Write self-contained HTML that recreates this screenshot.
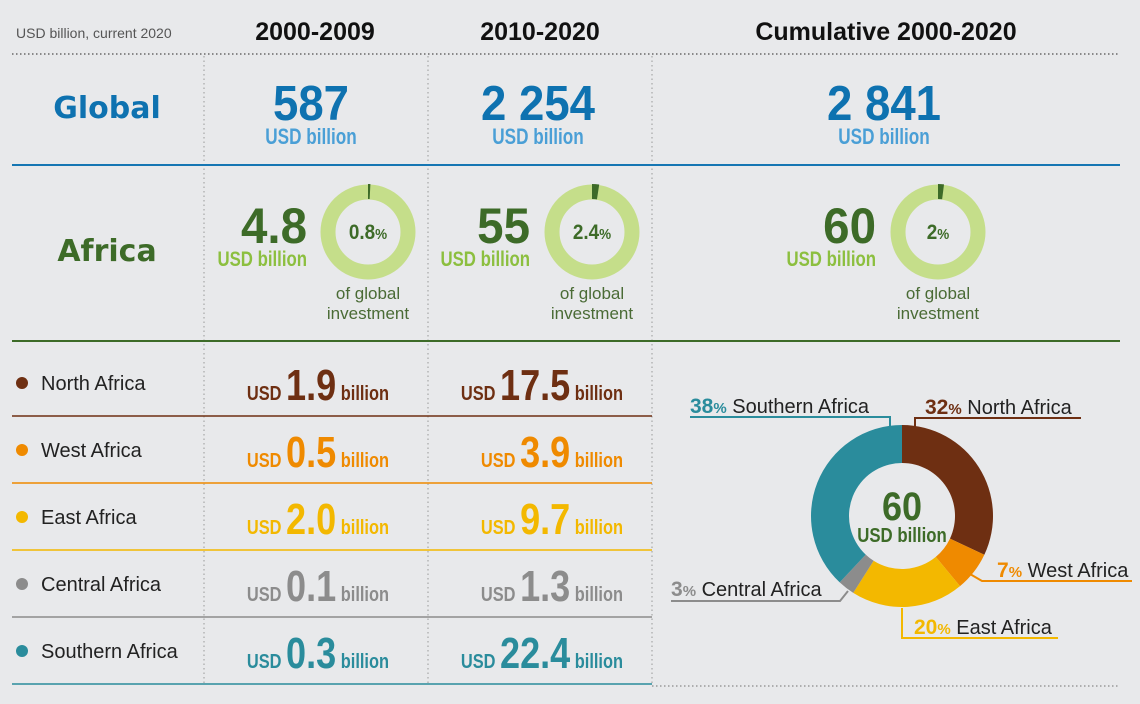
<!DOCTYPE html>
<html><head><meta charset="utf-8"><style>
body{margin:0;background:#e8e9eb;}
svg{display:block;font-family:"Liberation Sans",sans-serif;}
.b{font-weight:bold}
</style></head><body>
<svg id="c" width="1140" height="704" viewBox="0 0 1140 704">
<rect width="1140" height="704" fill="#e8e9eb"/>
<text x="16" y="38" font-size="14" fill="#555">USD billion, current 2020</text>
<g class="b" font-size="25" fill="#111" text-anchor="middle">
<text x="315" y="40">2000-2009</text>
<text x="540" y="40">2010-2020</text>
<text x="886" y="40">Cumulative 2000-2020</text>
</g>
<line x1="12" y1="54" x2="1120" y2="54" stroke="#888" stroke-width="2" stroke-dasharray="1.5 2.5"/>
<g stroke="#999" stroke-width="1" stroke-dasharray="1.5 3">
<line x1="204" y1="56" x2="204" y2="686"/>
<line x1="428" y1="56" x2="428" y2="686"/>
<line x1="652" y1="56" x2="652" y2="686"/>
</g>
<line x1="12" y1="165" x2="1120" y2="165" stroke="#1576b3" stroke-width="2"/>
<line x1="12" y1="341" x2="1120" y2="341" stroke="#3d6b28" stroke-width="2"/>
<text x="107" y="118" font-size="30" class="b" fill="#0e72b0" text-anchor="middle" font-family="DejaVu Sans, sans-serif">Global</text>
<text x="107" y="261" font-size="30" class="b" fill="#3d6b28" text-anchor="middle" font-family="DejaVu Sans, sans-serif">Africa</text>
<g id="glob" text-anchor="middle" class="b"></g>
<g id="afr" class="b"></g>
<g id="rows"></g>
<g id="donut"></g>
<line x1="652" y1="686" x2="1120" y2="686" stroke="#999" stroke-width="1.5" stroke-dasharray="1.5 2.5"/>
</svg>
<script>
const periods=["2000-2009","2010-2020","Cumulative"];
const globalVals=["587","2 254","2 841"];
const africaVals=["4.8","55","60"];
const africaShare=[0.8,2.4,2];
const africaShareLabels=["0.8","2.4","2"];
const regions=["North Africa","West Africa","East Africa","Central Africa","Southern Africa"];
const vals0009=["1.9","0.5","2.0","0.1","0.3"];
const vals1020=["17.5","3.9","9.7","1.3","22.4"];
const cumShare=[32,7,20,3,38];
const colors=["#6e2f12","#ef8a00","#f3b800","#8c8c8c","#2a8c9c"];
const NS="http://www.w3.org/2000/svg";
function mk(t,a,p){const e=document.createElementNS(NS,t);for(const k in a)e.setAttribute(k,a[k]);p.appendChild(e);return e;}
function cond(el,x,s){el.setAttribute('transform',`translate(${x} 0) scale(${s} 1) translate(${-x} 0)`);}
function arc(cx,cy,r0,r1,a0,a1){const f=(r,a)=>[cx+r*Math.sin(a),cy-r*Math.cos(a)];const L=(a1-a0)>Math.PI?1:0;
const p1=f(r1,a0),p2=f(r1,a1),p3=f(r0,a1),p4=f(r0,a0);
return `M${p1}A${r1},${r1} 0 ${L} 1 ${p2}L${p3}A${r0},${r0} 0 ${L} 0 ${p4}Z`;}
const gx=[311,538,884], dx=[368,592,938], nx=[307,530,876];
const glob=document.getElementById('glob'),afr=document.getElementById('afr');
globalVals.forEach((v,i)=>{
 let t=mk('text',{x:gx[i],y:120,'font-size':49,fill:'#0e72b0'},glob);t.textContent=v;cond(t,gx[i],0.93);
 
 
 let u=mk('text',{x:gx[i],y:144,'font-size':22,fill:'#4a9fd6'},glob);u.textContent='USD billion';cond(u,gx[i],0.78);
 
 
});
africaVals.forEach((v,i)=>{
 let t=mk('text',{x:nx[i],y:243,'font-size':50,fill:'#3d6b28','text-anchor':'end'},afr);t.textContent=v;cond(t,nx[i],0.95);
 
 
 let u=mk('text',{x:nx[i],y:266,'font-size':21,fill:'#8cbf3f','text-anchor':'end'},afr);u.textContent='USD billion';cond(u,nx[i],0.8);
 
 
 let ring=mk('circle',{cx:dx[i],cy:232,r:40,fill:'none',stroke:'#c5de8a','stroke-width':15},afr);
 
 
 let s=mk('path',{d:arc(dx[i],232,33,48,0,africaShare[i]/100*2*Math.PI),fill:'#3d6b28'},afr);
 
 
 let p=mk('text',{x:dx[i],y:239,'font-size':21,fill:'#3d6b28','text-anchor':'middle'},afr);
 p.innerHTML=africaShareLabels[i]+'<tspan font-size="15">%</tspan>';cond(p,dx[i],0.9);
 
 
 ['of global','investment'].forEach((w,k)=>{let o=mk('text',{x:dx[i],y:299+k*20,'font-size':17,'font-weight':'normal',fill:'#4a6b35','text-anchor':'middle'},afr);o.textContent=w;
 
 });
});
const rows=document.getElementById('rows');
regions.forEach((r,i)=>{
 const y=341+i*67;
 let d=mk('circle',{cx:22,cy:y+42,r:6,fill:colors[i]},rows);
 
 
 let t=mk('text',{x:41,y:y+49,'font-size':20,fill:'#222'},rows);t.textContent=r;
 
 
 [[vals0009,389],[vals1020,623]].forEach(([arr,x],k)=>{
  let v=mk('text',{x:x,y:y+59,'text-anchor':'end',fill:colors[i],'font-weight':'bold'},rows);
  v.innerHTML=`<tspan font-size="20">USD </tspan><tspan font-size="44">${arr[i]}</tspan><tspan font-size="20"> billion</tspan>`;
  cond(v,x,0.82);
  
  
 });
 let l=mk('line',{x1:12,y1:y+75,x2:652,y2:y+75,stroke:colors[i],'stroke-width':2,opacity:0.75},rows);
 
 
});
const dn=document.getElementById('donut');const cx=902,cy=516;
let acc=0;
cumShare.forEach((s,i)=>{
 const a0=acc/100*2*Math.PI;acc+=s;const a1=acc/100*2*Math.PI;
 let p=mk('path',{d:arc(cx,cy,53,91,a0,a1),fill:colors[i]},dn);
 
 
});
let c1=mk('text',{x:cx,y:520,'font-size':40,'font-weight':'bold',fill:'#3d6b28','text-anchor':'middle'},dn);c1.textContent='60';cond(c1,cx,0.9);


let c2=mk('text',{x:cx,y:542,'font-size':20,'font-weight':'bold',fill:'#3d6b28','text-anchor':'middle'},dn);c2.textContent='USD billion';cond(c2,cx,0.84);


const lab=[
 {i:0,pts:'915,430 915,418 1081,418',x:925,y:414},
 {i:1,pts:'970,574 982,581 1132,581',x:997,y:577},
 {i:2,pts:'902,608 902,638 1058,638',x:914,y:634},
 {i:3,pts:'848,591 840,601 671,601',x:671,y:596},
 {i:4,pts:'890,430 890,417 690,417',x:690,y:413}];
lab.forEach(o=>{
 let pl=mk('polyline',{points:o.pts,fill:'none',stroke:colors[o.i],'stroke-width':2},dn);
 
 
 let t=mk('text',{x:o.x,y:o.y,'font-size':20,fill:'#222'},dn);
 t.innerHTML=`<tspan fill="${colors[o.i]}" font-weight="bold" font-size="21">${cumShare[o.i]}</tspan><tspan fill="${colors[o.i]}" font-weight="bold" font-size="15">%</tspan> ${regions[o.i]}`;
 
 
});
</script>
</body></html>
